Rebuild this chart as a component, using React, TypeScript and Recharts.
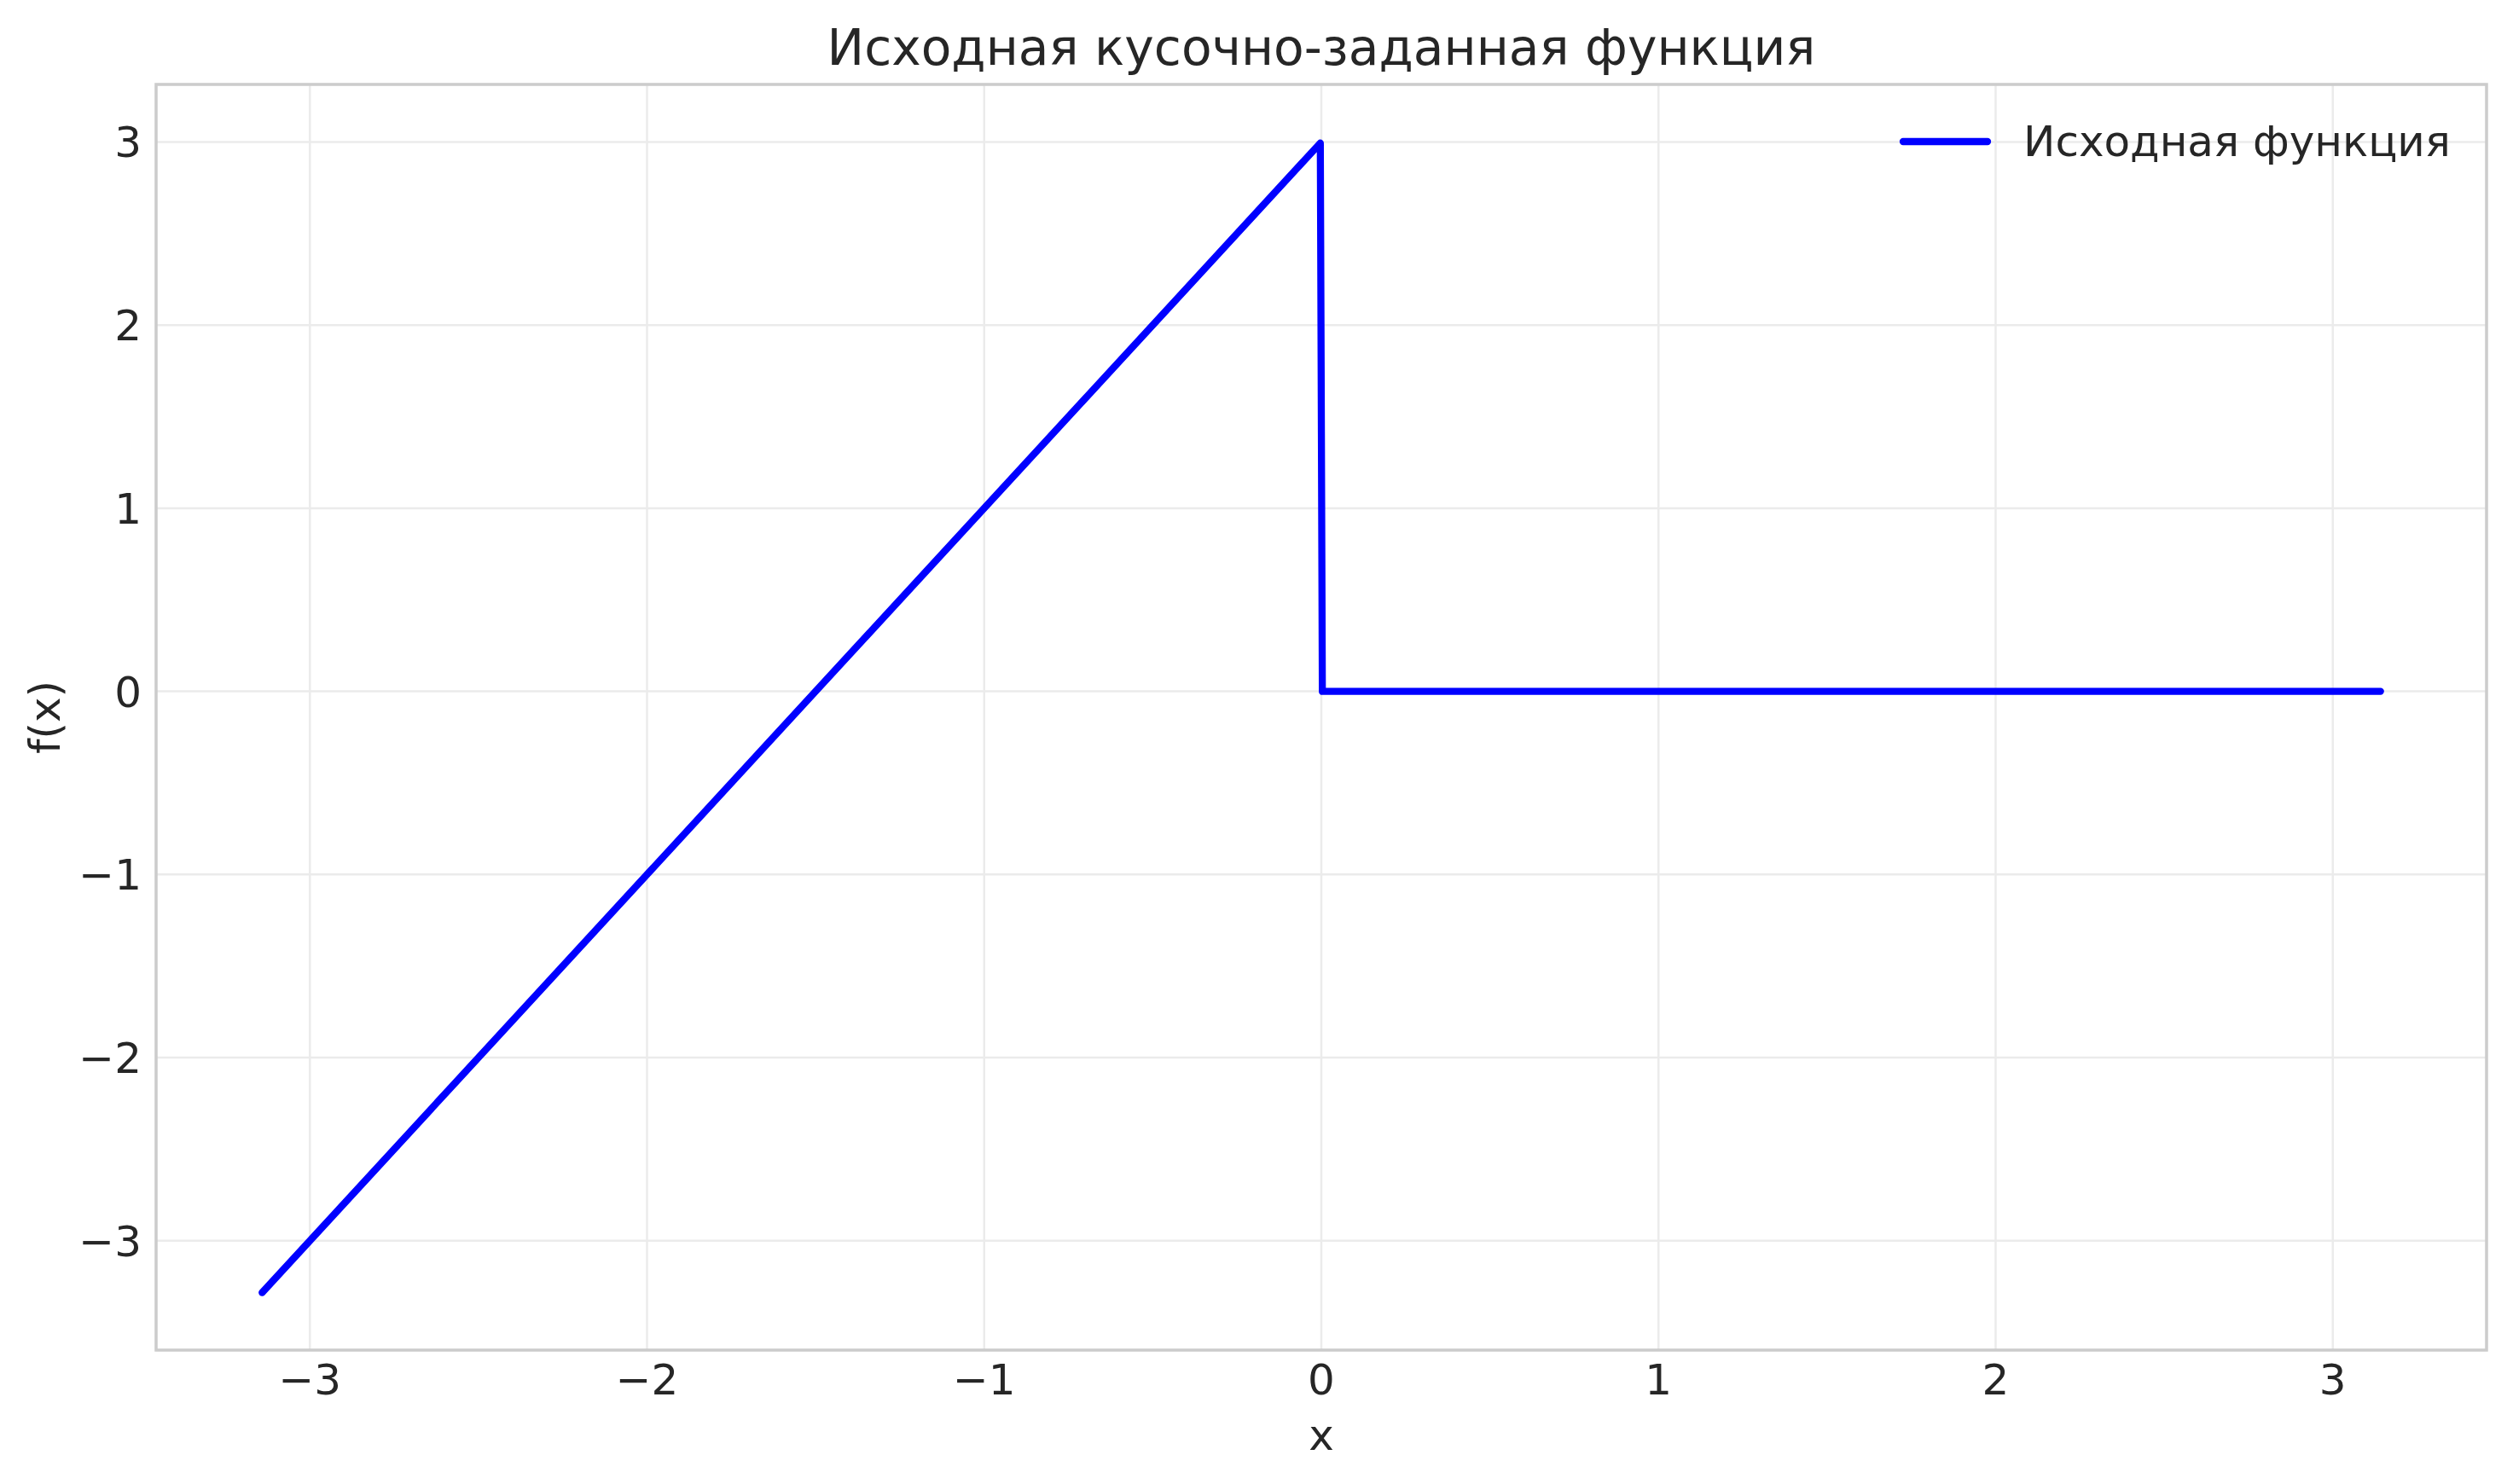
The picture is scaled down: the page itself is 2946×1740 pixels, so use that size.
import React from "react"
import { CartesianGrid, Label, Legend, Line, LineChart, ReferenceArea, XAxis, YAxis } from "recharts"

// sampled vertices of the piecewise function (slope part, jump at 0, flat part)
const xValues = [-3.1416, -0.003, 0.003, 3.1416]
const yValues = [-3.283, 2.994, 0, 0]

const xTicks = [-3, -2, -1, 0, 1, 2, 3]
const yTicks = [-3, -2, -1, 0, 1, 2, 3]

const xDomain: [number, number] = [-3.456, 3.456]
const yDomain: [number, number] = [-3.597, 3.314]

const title = "Исходная кусочно-заданная функция"
const seriesName = "Исходная функция"

const data = xValues.map((x, i) => ({ x, y: yValues[i] }))

const FONT = "DejaVu Sans"
const TEXT = "#262626"

const fmt = (v: number) => (v < 0 ? `\u2212${Math.abs(v)}` : `${v}`)

const XTick = (props: any) => {
  const { x, y, payload } = props
  return (
    <text x={x} y={y + 52} textAnchor="middle" fontFamily={FONT} fontSize={50} fill={TEXT}>
      {fmt(payload.value)}
    </text>
  )
}

const YTick = (props: any) => {
  const { x, y, payload } = props
  return (
    <text x={x - 17} y={y + 18} textAnchor="end" fontFamily={FONT} fontSize={50} fill={TEXT}>
      {fmt(payload.value)}
    </text>
  )
}

const LegendBox = () => (
  <svg width={720} height={90}>
    <line x1={31} y1={46} x2={130} y2={46} stroke="#0000ff" strokeWidth={8.3} strokeLinecap="round" />
    <text x={172} y={63} fontFamily={FONT} fontSize={50} fill={TEXT}>
      {seriesName}
    </text>
  </svg>
)

export default function App() {
  return (
    <div style={{ position: "absolute", left: 0, top: 0, width: 2946, height: 1740, background: "#fff" }}>
      <LineChart width={2946} height={1740} data={data} margin={{ top: 99, right: 31, bottom: 0, left: 0 }}>
        <CartesianGrid stroke="#ebebeb" strokeWidth={2.5} />
        <XAxis
          type="number"
          dataKey="x"
          domain={xDomain}
          ticks={xTicks}
          allowDataOverflow
          height={157}
          tickSize={0}
          tickMargin={0}
          tickLine={false}
          axisLine={false}
          tick={<XTick />}
        >
          <Label
            content={(p: any) => {
              const vb = p.viewBox
              return (
                <text x={vb.x + vb.width / 2} y={vb.y + 117} textAnchor="middle" fontFamily={FONT} fontSize={50} fill={TEXT}>
                  x
                </text>
              )
            }}
          />
        </XAxis>
        <YAxis
          type="number"
          domain={yDomain}
          ticks={yTicks}
          allowDataOverflow
          width={183}
          tickSize={0}
          tickMargin={0}
          tickLine={false}
          axisLine={false}
          tick={<YTick />}
        >
          <Label
            content={(p: any) => {
              const vb = p.viewBox
              const cy = vb.y + vb.height / 2
              return (
                <text
                  x={70}
                  y={cy}
                  transform={`rotate(-90, 70, ${cy})`}
                  textAnchor="middle"
                  fontFamily={FONT}
                  fontSize={50}
                  fill={TEXT}
                >
                  f(x)
                </text>
              )
            }}
          />
        </YAxis>
        <ReferenceArea
          x1={xDomain[0]}
          x2={xDomain[1]}
          y1={yDomain[0]}
          y2={yDomain[1]}
          fill="none"
          fillOpacity={0}
          stroke="#cccccc"
          strokeWidth={3.5}
          ifOverflow="extendDomain"
        />
        <Line
          type="linear"
          dataKey="y"
          name={seriesName}
          stroke="#0000ff"
          strokeWidth={8.3}
          strokeLinecap="round"
          strokeLinejoin="round"
          dot={false}
          activeDot={false}
          isAnimationActive={false}
        />
        <Legend
          layout="horizontal"
          verticalAlign="middle"
          align="center"
          content={<LegendBox />}
          wrapperStyle={{ left: 2200, top: 120, width: 720, height: 90 }}
        />
      </LineChart>
      <svg width={2946} height={120} style={{ position: "absolute", left: 0, top: 0, pointerEvents: "none" }}>
        <text x={1549} y={76} textAnchor="middle" fontFamily={FONT} fontSize={58.3} fill={TEXT}>
          {title}
        </text>
      </svg>
    </div>
  )
}
